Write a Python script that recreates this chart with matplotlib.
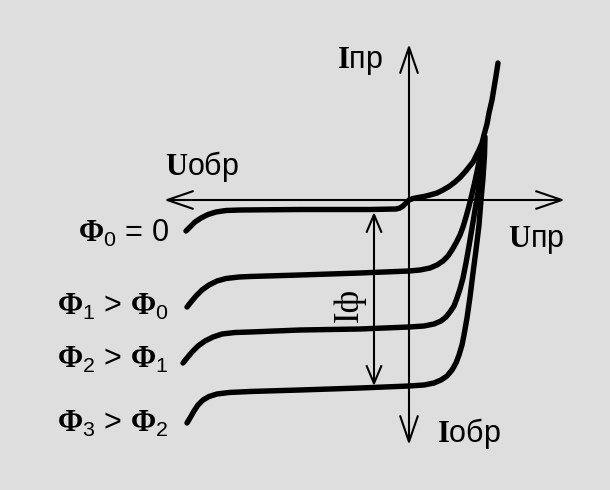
import numpy as np
import matplotlib.pyplot as plt

plt.rcParams['mathtext.fontset'] = 'custom'
plt.rcParams['mathtext.rm'] = 'Liberation Sans'
plt.rcParams['mathtext.it'] = 'Liberation Sans:italic'
plt.rcParams['mathtext.bf'] = 'Liberation Serif:bold'

# I-V curves of a photodiode (schematic units), one per light flux
u0 = [-223, -219, -214, -208, -201, -193, -183, -169, -109, -39, -13, -9, -6, -3, 0, 4, 9, 15, 21, 28, 34,
      40, 46, 51, 56, 60, 64, 67, 70, 73, 75, 78, 80, 83, 85, 87, 89]
i0 = [-31, -27, -22, -18, -14.5, -12, -10.5, -10, -9.5, -9.5, -9, -8, -6, -3, 0, 1.5, 2.5, 3.5, 5, 7, 10,
      13.5, 18, 22.5, 28, 33, 38, 44, 50, 57, 65, 76, 87, 100, 112, 124, 137]

u1 = [-222, -218, -213, -207, -200, -192, -183, -170, -159, -109, -49, 0, 11, 21, 28, 34, 39, 43, 47, 51, 54,
      57, 60, 63, 66, 69, 72, 75]
i1 = [-107, -102, -96, -90, -85, -81, -78.5, -77, -76.5, -75, -73, -71, -70, -68, -65, -61, -56, -50, -43, -35, -27,
      -17, -6, 6, 19, 33, 48, 63]

u2 = [-226, -222, -217, -211, -204, -196, -187, -174, -159, -109, -49, 0, 15, 25, 32, 37, 41, 45, 48, 51, 54, 57,
      60, 63, 66, 69, 71, 73, 75]
i2 = [-163, -158, -152, -146, -141, -137, -134, -132.5, -132, -130, -129, -127, -126, -124, -121, -117, -112, -106, -98, -89, -78, -63,
      -46, -28, -10, 8, 25, 43, 63]

u3 = [-222, -219, -215, -211, -206, -200, -192, -180, -159, -109, -49, 0, 15, 25, 32, 38, 43, 47, 50, 53, 55,
      58, 61, 64, 67, 70, 72, 74, 75.5, 76]
i3 = [-223, -218, -211, -205, -200, -196.5, -194, -192.5, -191.5, -190, -188, -186, -185, -183, -180, -176, -170, -163, -155, -145, -135,
      -118, -97, -73, -50, -25, 0, 22, 45, 63]

curves = [(u0, i0), (u1, i1), (u2, i2), (u3, i3)]

flux_labels = [r'$\mathbf{\Phi}_0$ = 0', r'$\mathbf{\Phi}_1$ > $\mathbf{\Phi}_0$',
               r'$\mathbf{\Phi}_2$ > $\mathbf{\Phi}_1$', r'$\mathbf{\Phi}_3$ > $\mathbf{\Phi}_2$']
flux_label_y = [-42, -115, -168, -232]

# axes extents and photocurrent marker
axis_min, axis_max = -245, 156
iph_u, iph_top, iph_bottom = -35, -12, -186

bg = '#dedede'
fig = plt.figure(figsize=(6.1, 4.9), dpi=100, facecolor=bg)
ax = fig.add_axes([0, 0, 1, 1])
ax.set_facecolor(bg)
ax.set_xlim(-409, 201)
ax.set_ylim(-290, 200)
ax.axis('off')

head = dict(arrowstyle='<->,head_length=1.9,head_width=0.65', mutation_scale=10,
            lw=1.5, color='black', shrinkA=0, shrinkB=0, capstyle='butt')
ax.annotate('', xy=(axis_max, 0), xytext=(axis_min, 0), arrowprops=head)
ax.annotate('', xy=(0, axis_max), xytext=(0, axis_min), arrowprops=head)

small = dict(head, arrowstyle='<->,head_length=1.3,head_width=0.55')
ax.annotate('', xy=(iph_u, iph_top), xytext=(iph_u, iph_bottom), arrowprops=small)

for u, i in curves:
    ax.plot(u, i, color='black', lw=3.9, solid_capstyle='round', solid_joinstyle='round')

fs = 22
for lab, y in zip(flux_labels, flux_label_y):
    ax.text(-240, y, lab, ha='right', va='baseline', fontsize=fs, family='Liberation Sans')

ax.text(-49, 132, r'$\mathbf{I}$пр', ha='center', va='baseline', fontsize=fs, family='Liberation Sans')
ax.text(-244, 25, r'$\mathbf{U}$обр', ha='left', va='baseline', fontsize=fs, family='Liberation Sans')
ax.text(99, -47, r'$\mathbf{U}$пр', ha='left', va='baseline', fontsize=fs, family='Liberation Sans')
ax.text(28, -242, r'$\mathbf{I}$обр', ha='left', va='baseline', fontsize=fs, family='Liberation Sans')
ax.text(-60, -105, 'Iф', ha='center', va='center', rotation=90, fontsize=25, family='Liberation Serif')

fig.savefig('out.png', dpi=100, facecolor=bg)
